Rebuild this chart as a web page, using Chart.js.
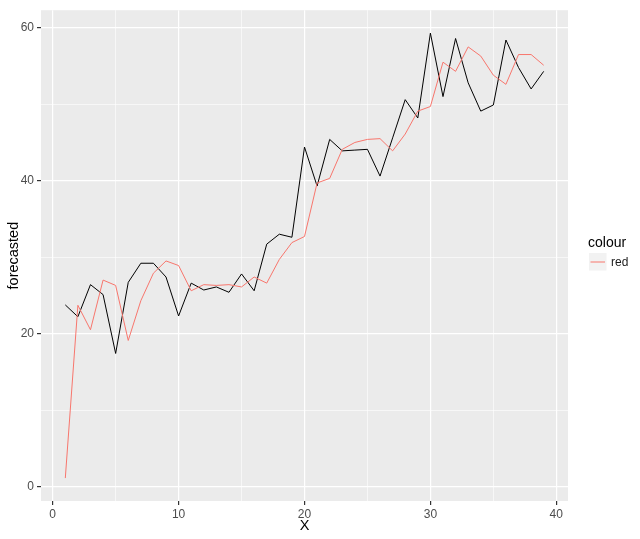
<!DOCTYPE html>
<html>
<head>
<meta charset="utf-8">
<script src="https://cdn.jsdelivr.net/npm/chart.js@4.4.1/dist/chart.umd.min.js"></script>
<style>
  html, body { margin: 0; padding: 0; background: #ffffff; }
  #wrap { width: 640px; height: 539px; }
</style>
</head>
<body>
<div id="wrap"><canvas id="c" width="640" height="539"></canvas></div>
<script>
const xValues = [1,2,3,4,5,6,7,8,9,10,11,12,13,14,15,16,17,18,19,20,21,22,23,24,25,26,27,28,29,30,31,32,33,34,35,36,37,38,39];
const blackSeries = [23.75,22.2,26.4,25.1,17.4,26.7,29.2,29.2,27.4,22.3,26.6,25.7,26.1,25.4,27.8,25.6,31.7,33.0,32.6,44.4,39.3,45.4,43.9,44.0,44.1,40.6,45.6,50.6,48.2,59.3,51.0,58.6,52.8,49.1,49.9,58.4,54.8,52.0,54.3];
const redSeries = [1.1,23.7,20.5,27.0,26.3,19.1,24.3,27.9,29.5,28.9,25.6,26.4,26.3,26.4,26.1,27.4,26.6,29.7,31.9,32.7,39.7,40.3,44.1,45.0,45.4,45.5,43.9,46.1,49.1,49.7,55.5,54.3,57.5,56.3,53.8,52.6,56.5,56.5,55.1];
const xTicks = [0,5,10,15,20,25,30,35,40];
const xMajor = [0,10,20,30,40];
const yTicks = [0,10,20,30,40,50,60];
const yMajor = [0,20,40,60];
const legendTitle = 'colour';
const legendLabel = 'red';

const RED = '#F8766D';
const FONT = "'Liberation Sans', Arial, sans-serif";

const panelBg = {
  id: 'panelBg',
  beforeDraw(chart) {
    const {ctx, chartArea: a} = chart;
    ctx.save();
    ctx.fillStyle = '#EBEBEB';
    ctx.fillRect(a.left, a.top, a.right - a.left, a.bottom - a.top);
    ctx.restore();
  }
};

const ggLegend = {
  id: 'ggLegend',
  afterDraw(chart) {
    const ctx = chart.ctx;
    ctx.save();
    ctx.textBaseline = 'middle';
    ctx.textAlign = 'left';
    ctx.fillStyle = '#000000';
    ctx.font = '14px ' + FONT;
    ctx.fillText(legendTitle, 588, 243);
    ctx.fillStyle = '#F2F2F2';
    ctx.fillRect(589, 253, 17.5, 17.5);
    ctx.strokeStyle = RED;
    ctx.lineWidth = 1;
    ctx.beginPath();
    ctx.moveTo(590.5, 262);
    ctx.lineTo(605, 262);
    ctx.stroke();
    ctx.fillStyle = '#1A1A1A';
    ctx.font = '12px ' + FONT;
    ctx.fillText(legendLabel, 611, 262.5);
    ctx.restore();
  }
};

function gridOpts(major) {
  return {
    color: '#FFFFFF',
    lineWidth: (c) => (c.tick && major.includes(c.tick.value)) ? 1.2 : 0.6,
    tickColor: (c) => (c.tick && major.includes(c.tick.value)) ? '#333333' : 'rgba(0,0,0,0)',
    tickLength: 4,
    drawTicks: true
  };
}

new Chart(document.getElementById('c'), {
  type: 'line',
  data: {
    datasets: [
      {
        label: legendLabel,
        data: xValues.map((x, i) => ({x: x, y: redSeries[i]})),
        borderColor: RED,
        borderWidth: 1,
        pointRadius: 0,
        tension: 0,
        fill: false
      },
      {
        label: 'actual',
        data: xValues.map((x, i) => ({x: x, y: blackSeries[i]})),
        borderColor: '#000000',
        borderWidth: 1,
        pointRadius: 0,
        tension: 0,
        fill: false
      }
    ]
  },
  options: {
    responsive: false,
    animation: false,
    devicePixelRatio: 1,
    layout: { padding: { left: 0, top: 6, right: 72, bottom: 0 } },
    plugins: { legend: { display: false }, tooltip: { enabled: false } },
    scales: {
      x: {
        type: 'linear',
        min: -0.93,
        max: 40.93,
        afterBuildTicks: (s) => { s.ticks = xTicks.map(v => ({value: v})); },
        afterFit: (s) => { s.height = 38; },
        grid: gridOpts(xMajor),
        border: { display: false },
        ticks: {
          padding: 2,
          color: '#4D4D4D',
          font: { family: FONT, size: 12 },
          maxRotation: 0,
          autoSkip: false,
          callback: (v) => xMajor.includes(v) ? String(v) : ''
        },
        title: {
          display: true,
          text: 'X',
          color: '#000000',
          font: { family: FONT, size: 14.5 },
          padding: { top: 0, bottom: 4 }
        }
      },
      y: {
        type: 'linear',
        min: -1.9,
        max: 62.3,
        afterBuildTicks: (s) => { s.ticks = yTicks.map(v => ({value: v})); },
        afterFit: (s) => { s.width = 41; },
        grid: gridOpts(yMajor),
        border: { display: false },
        ticks: {
          padding: 3,
          color: '#4D4D4D',
          font: { family: FONT, size: 12 },
          autoSkip: false,
          callback: (v) => yMajor.includes(v) ? String(v) : ''
        },
        title: {
          display: true,
          text: 'forecasted',
          color: '#000000',
          font: { family: FONT, size: 14.5 },
          padding: { top: 5, bottom: 0 }
        }
      }
    }
  },
  plugins: [panelBg, ggLegend]
});
</script>
</body>
</html>
